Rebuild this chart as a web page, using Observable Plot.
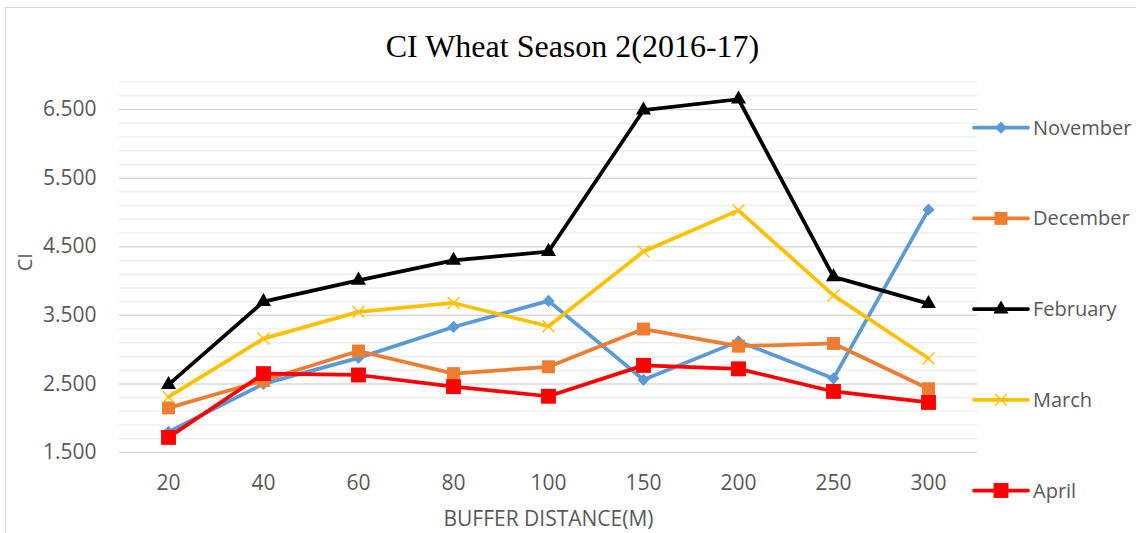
<!DOCTYPE html>
<html><head><meta charset="utf-8">
<script src="https://cdn.jsdelivr.net/npm/d3@7"></script>
<script src="https://cdn.jsdelivr.net/npm/@observablehq/plot@0.6"></script>
<style>
body{margin:0;background:#fff;}
#wrap{position:relative;width:1136px;height:533px;overflow:hidden;background:#fff;}
#border{position:absolute;left:5px;top:7px;right:-10px;bottom:-10px;border-left:1.5px solid #d9d9d9;border-top:1.5px solid #d9d9d9;}
#title{position:relative;height:70px;box-sizing:border-box;padding-top:30px;padding-left:9px;line-height:32px;font-family:"Liberation Serif","Times New Roman",serif;font-size:32px;text-align:center;color:#000;white-space:nowrap;}
#chart{position:relative;}
#legend{position:absolute;left:0;top:0;}
</style></head><body>
<div id="wrap"><div id="border"></div><div id="title"></div><div id="chart"></div><svg id="legend" width="1136" height="533"></svg></div>
<script>
const titleText = "CI Wheat Season 2(2016-17)";
const xLabel = "BUFFER DISTANCE(M)";
const yLabel = "CI";
const distances = ["20","40","60","80","100","150","200","250","300"];
const seriesNames = ["November","December","February","March","April"];
const november = [1.80, 2.50, 2.88, 3.33, 3.71, 2.56, 3.12, 2.58, 5.04];
const december = [2.15, 2.55, 2.98, 2.65, 2.75, 3.30, 3.05, 3.09, 2.43];
const february = [2.49, 3.70, 4.01, 4.30, 4.43, 6.49, 6.65, 4.06, 3.67];
const march    = [2.31, 3.16, 3.55, 3.68, 3.34, 4.43, 5.03, 3.79, 2.87];
const april    = [1.72, 2.65, 2.63, 2.46, 2.32, 2.77, 2.72, 2.39, 2.23];
const yTicks = [1.5, 2.5, 3.5, 4.5, 5.5, 6.5];
const yDomain = [1.5, 6.9];

const seriesValues = [november, december, february, march, april];
const styles = {
  November: {color: "#5B9BD5", symbol: "diamond2", r: 5.5, fill: "#5B9BD5", stroke: "none", sw: 0},
  December: {color: "#ED7D31", symbol: "square", r: 7.3, fill: "#ED7D31", stroke: "none", sw: 0},
  February: {color: "#000000", symbol: "triangle", r: 5.6, fill: "#000000", stroke: "none", sw: 0},
  March:    {color: "#FFC000", symbol: "times", r: 5.5, fill: "none", stroke: "#FFC000", sw: 1.4},
  April:    {color: "#FF0000", symbol: "square", r: 8.4, fill: "#FF0000", stroke: "none", sw: 0}
};

const rows = [];
seriesNames.forEach((name, i) => {
  distances.forEach((d, j) => rows.push({series: name, dist: d, value: seriesValues[i][j]}));
});

document.getElementById("title").textContent = titleText;

const minorTicks = d3.range(0, 28).map(i => +(yDomain[0] + i * 0.2).toFixed(2)).filter(v => v <= yDomain[1] + 1e-9);

const seriesMarks = [];
seriesNames.forEach(name => {
  const st = styles[name];
  const data = rows.filter(r => r.series === name);
  seriesMarks.push(Plot.line(data, {x: "dist", y: "value", stroke: st.color, strokeWidth: 3.75, strokeLinejoin: "round"}));
  seriesMarks.push(Plot.dot(data, {x: "dist", y: "value", symbol: () => st.symbol, r: st.r, fill: st.fill, stroke: st.stroke, strokeWidth: st.sw}));
});

const plot = Plot.plot({
  width: 1136, height: 463,
  marginLeft: 119, marginRight: 159, marginTop: 11.6, marginBottom: 81,
  style: {fontFamily: "'Open Sans', sans-serif", fontSize: "21px", color: "#595959", background: "transparent", overflow: "visible"},
  x: {type: "point", domain: distances, padding: 0.5, label: null},
  y: {domain: yDomain, label: null},
  symbol: {type: "identity"},
  marks: [
    Plot.ruleY(minorTicks.filter(v => !yTicks.some(t => Math.abs(t - v) < 1e-6)), {stroke: "#efefef", strokeWidth: 1.5}),
    Plot.ruleY(yTicks, {stroke: "#d9d9d9", strokeWidth: 1.5}),
    Plot.axisY(yTicks, {tickSize: 0, tickPadding: 23, tickFormat: d3.format(".3f"), fontSize: 21, fill: "#595959", label: null}),
    Plot.axisX({tickSize: 0, tickPadding: 23, fontSize: 21, fill: "#595959", label: null}),
    Plot.text([yLabel], {text: d => d, frameAnchor: "left", rotate: -90, dx: -94, dy: 4, fontSize: 20, fill: "#595959"}),
    Plot.text([xLabel], {text: d => d, frameAnchor: "bottom", dy: 73, fontSize: 21, fill: "#595959"}),
    ...seriesMarks
  ]
});
document.getElementById("chart").appendChild(plot);

// Legend (right side)
const leg = d3.select("#legend");
const symMap = {diamond2: d3.symbolDiamond2, square: d3.symbolSquare, triangle: d3.symbolTriangle, times: d3.symbolTimes};
seriesNames.forEach((name, i) => {
  const st = styles[name];
  const y = 127.7 + i * 90.7;
  const g = leg.append("g").attr("transform", `translate(0,${y})`);
  g.append("line").attr("x1", 974).attr("x2", 1028).attr("y1", 0).attr("y2", 0)
    .attr("stroke", st.color).attr("stroke-width", 3.75).attr("stroke-linecap", "round");
  g.append("path").attr("transform", "translate(1001,0)")
    .attr("d", d3.symbol(symMap[st.symbol], Math.PI * st.r * st.r)())
    .attr("fill", st.fill).attr("stroke", st.stroke).attr("stroke-width", st.sw);
  g.append("text").attr("x", 1033).attr("y", 0).attr("dy", "0.35em")
    .attr("font-family", "'Open Sans', sans-serif").attr("font-size", 20).attr("fill", "#595959")
    .text(name);
});
</script>
</body></html>
